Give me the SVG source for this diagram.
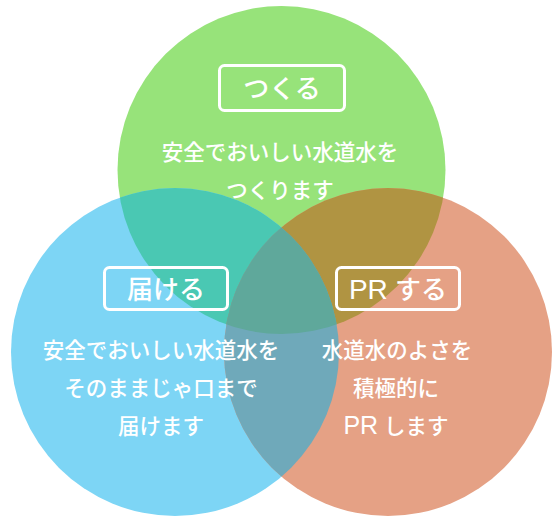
<svg xmlns="http://www.w3.org/2000/svg" width="557" height="517" viewBox="0 0 557 517">
  <style>
    .lbl { font-family: "Liberation Sans", "Noto Sans CJK JP", sans-serif; font-size: 26px; font-weight: 500; fill: #ffffff; text-anchor: middle; }
    .body { font-family: "Liberation Sans", "Noto Sans CJK JP", sans-serif; font-size: 21.5px; font-weight: 500; fill: #ffffff; text-anchor: middle; }
    .box { fill: none; stroke: #ffffff; stroke-width: 3; }
  </style>
  <defs>
    <clipPath id="cT"><circle cx="281.5" cy="170" r="164"/></clipPath>
    <clipPath id="cL"><circle cx="175" cy="352" r="164"/></clipPath>
  </defs>
  <rect width="557" height="517" fill="#ffffff"/>
  <g id="circles">
    <circle cx="281.5" cy="170" r="164" fill="#97E37A"/>
    <circle cx="175" cy="352" r="164" fill="#7DD5F5"/>
    <circle cx="388" cy="352" r="164" fill="#E5A185"/>
    <circle cx="175" cy="352" r="164" fill="#4AC8B3" clip-path="url(#cT)"/>
    <circle cx="388" cy="352" r="164" fill="#B09442" clip-path="url(#cT)"/>
    <circle cx="388" cy="352" r="164" fill="#6FA9BA" clip-path="url(#cL)"/>
    <g clip-path="url(#cT)">
      <circle cx="388" cy="352" r="164" fill="#5FA89B" clip-path="url(#cL)"/>
    </g>
  </g>
  <g id="node-tsukuru">
    <rect class="box" x="219.5" y="65.5" width="125" height="45" rx="5"/>
    <text class="lbl" x="282" y="98">つくる</text>
    <text class="body" x="280" y="160">安全でおいしい水道水を</text>
    <text class="body" x="280" y="198">つくります</text>
  </g>
  <g id="node-todokeru">
    <rect class="box" x="104.5" y="267.5" width="123" height="42" rx="5"/>
    <text class="lbl" x="166" y="299">届ける</text>
    <text class="body" x="161" y="358">安全でおいしい水道水を</text>
    <text class="body" x="161" y="396">そのままじゃ口まで</text>
    <text class="body" x="161" y="434">届けます</text>
  </g>
  <g id="node-pr">
    <rect class="box" x="336.5" y="267.5" width="123" height="42" rx="5"/>
    <text class="lbl" x="398" y="299"><tspan font-size="28">PR</tspan> する</text>
    <text class="body" x="397" y="358">水道水のよさを</text>
    <text class="body" x="396" y="396">積極的に</text>
    <text class="body" x="396" y="434"><tspan font-size="25">PR</tspan> します</text>
  </g>
</svg>
